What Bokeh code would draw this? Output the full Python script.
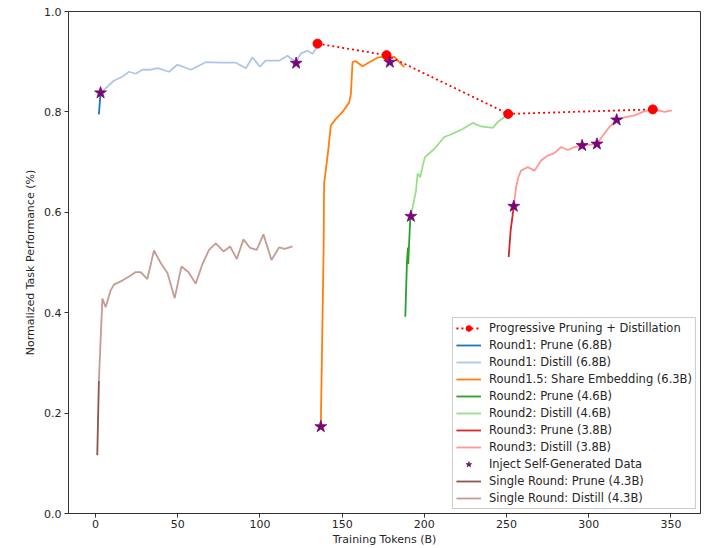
from bokeh.plotting import figure
from bokeh.models import Range1d, FixedTicker, Legend, LegendItem, CustomJSTickFormatter
from bokeh.embed import file_html
from bokeh.resources import INLINE

# ---- data ----
prog_x = [135, 177, 251, 339]
prog_y = [0.936, 0.913, 0.796, 0.805]

r1_prune_x = [2, 3]
r1_prune_y = [0.795, 0.838]

r1_distill_x = [3, 11.1, 16.2, 20.3, 24.4, 28.4, 33.5, 37.6, 44.7, 49.7, 57.9, 67, 76.1, 85.3,
                91.4, 95.4, 99.9, 103.5, 111.6, 116.7, 121.8, 124.8, 128.9, 132, 134, 135]
r1_distill_y = [0.838, 0.862, 0.870, 0.880, 0.876, 0.884, 0.884, 0.887, 0.880, 0.894, 0.884, 0.899,
                0.898, 0.898, 0.887, 0.909, 0.890, 0.902, 0.902, 0.912, 0.899, 0.916, 0.922, 0.916,
                0.926, 0.936]

r15_x = [137, 138.7, 139, 141.5, 143.1, 146.2, 150.2, 154.3, 155.3, 156.3, 158.3, 162.4, 166.5,
         171.5, 175.6, 179.7, 181.7, 184.7, 187.8]
r15_y = [0.173, 0.524, 0.657, 0.723, 0.773, 0.786, 0.800, 0.819, 0.836, 0.899, 0.901, 0.891, 0.899,
         0.908, 0.910, 0.908, 0.910, 0.899, 0.889]

r2_prune_x = [188.4, 189.4, 190.0, 190.2, 190.6, 191.5]
r2_prune_y = [0.392, 0.500, 0.530, 0.497, 0.530, 0.592]

r2_distill_x = [191.5, 192.9, 194.9, 195.9, 197.5, 199, 200.4, 206, 212.1, 216.2, 223.3, 229.4,
                234.5, 241.6, 244.6, 248.3, 251]
r2_distill_y = [0.592, 0.610, 0.643, 0.677, 0.670, 0.693, 0.710, 0.726, 0.750, 0.755, 0.766, 0.778,
                0.771, 0.768, 0.780, 0.789, 0.796]

r3_prune_x = [251.3, 252.5, 254.4]
r3_prune_y = [0.511, 0.564, 0.612]

r3_distill_x = [254.4, 255.8, 257.2, 258.8, 262.9, 267, 271, 275.1, 279.1, 283.2, 287.3, 291.4, 296,
                300.4, 304.9, 308.6, 312.6, 317.1, 321.8, 327.9, 333, 338, 342.1, 346.1, 350.6]
r3_distill_y = [0.612, 0.650, 0.670, 0.683, 0.690, 0.683, 0.703, 0.713, 0.718, 0.730, 0.724, 0.730,
                0.733, 0.735, 0.736, 0.753, 0.770, 0.784, 0.789, 0.793, 0.800, 0.805, 0.803, 0.800,
                0.803]

star_x = [3, 122, 137, 179, 191.8, 254.4, 296, 305, 317]
star_y = [0.838, 0.897, 0.173, 0.899, 0.592, 0.612, 0.733, 0.736, 0.784]

single_prune_x = [1, 2]
single_prune_y = [0.116, 0.265]

single_distill_x = [2, 4.1, 6.1, 9.1, 11.1, 16.2, 21.3, 24.4, 27.4, 31.5, 35.5, 39.6, 43.7, 48.1,
                    52.2, 56.4, 60.9, 65, 69, 73.1, 77.8, 81.8, 85.9, 89.9, 94, 98, 102.1, 107,
                    111.6, 115.1, 119.8]
single_distill_y = [0.265, 0.428, 0.411, 0.444, 0.456, 0.464, 0.474, 0.481, 0.481, 0.467, 0.524,
                    0.499, 0.479, 0.429, 0.492, 0.481, 0.458, 0.497, 0.525, 0.538, 0.522, 0.532,
                    0.507, 0.546, 0.529, 0.525, 0.556, 0.505, 0.530, 0.527, 0.532]

x_ticks = [0, 50, 100, 150, 200, 250, 300, 350]
y_ticks = [0.0, 0.2, 0.4, 0.6, 0.8, 1.0]

FONT = "DejaVu Sans"
TXT = "#262626"

p = figure(width=713, height=548, output_backend="svg", toolbar_location=None,
           x_range=Range1d(-16.5, 368), y_range=Range1d(0, 1),
           min_border_left=68, min_border_right=13, min_border_top=11, min_border_bottom=35)
p.xgrid.visible = False
p.ygrid.visible = False
p.outline_line_color = "#333333"
p.outline_line_width = 1
p.background_fill_color = "white"
p.border_fill_color = "white"

p.xaxis.ticker = FixedTicker(ticks=x_ticks)
p.yaxis.ticker = FixedTicker(ticks=y_ticks)
p.yaxis.formatter = CustomJSTickFormatter(code="return tick.toFixed(1);")
for ax in (p.xaxis[0], p.yaxis[0]):
    ax.major_label_text_font = FONT
    ax.major_label_text_font_size = "11px"
    ax.major_label_text_color = TXT
    ax.axis_label_text_font = FONT
    ax.axis_label_text_font_size = "11px"
    ax.axis_label_text_font_style = "normal"
    ax.axis_label_text_color = TXT
    ax.minor_tick_line_color = None
    ax.major_tick_in = 0
    ax.major_tick_out = 4
    ax.axis_line_color = "#333333"
    ax.major_tick_line_color = "#333333"
p.xaxis.major_label_standoff = 2
p.xaxis.axis_label_standoff = 2
p.yaxis.major_label_standoff = 3
p.yaxis.axis_label_standoff = 4
p.xaxis.axis_label = "Training Tokens (B)"
p.yaxis.axis_label = "Normalized Task Performance (%)"

LW = 1.8
l_r1p = p.line(r1_prune_x, r1_prune_y, color="#1f77b4", line_width=LW)
l_r1d = p.line(r1_distill_x, r1_distill_y, color="#aec7e8", line_width=LW)
l_r15 = p.line(r15_x, r15_y, color="#ff7f0e", line_width=LW)
l_r2p = p.line(r2_prune_x, r2_prune_y, color="#2ca02c", line_width=LW)
l_r2d = p.line(r2_distill_x, r2_distill_y, color="#98df8a", line_width=LW)
l_r3p = p.line(r3_prune_x, r3_prune_y, color="#d62728", line_width=LW)
l_r3d = p.line(r3_distill_x, r3_distill_y, color="#ff9896", line_width=LW)
l_sp = p.line(single_prune_x, single_prune_y, color="#8c564b", line_width=LW)
l_sd = p.line(single_distill_x, single_distill_y, color="#c49c94", line_width=LW)

l_prog = p.line(prog_x, prog_y, color="red", line_width=1.8, line_dash="2 3")
s_prog = p.scatter(prog_x, prog_y, size=9, color="red")
s_star = p.scatter(star_x, star_y, marker="star", size=12.5, fill_color="purple",
                   line_color="#6a0a6a", line_width=0.8)

legend = Legend(items=[
    LegendItem(label="Progressive Pruning + Distillation", renderers=[l_prog, s_prog]),
    LegendItem(label="Round1: Prune (6.8B)", renderers=[l_r1p]),
    LegendItem(label="Round1: Distill (6.8B)", renderers=[l_r1d]),
    LegendItem(label="Round1.5: Share Embedding (6.3B)", renderers=[l_r15]),
    LegendItem(label="Round2: Prune (4.6B)", renderers=[l_r2p]),
    LegendItem(label="Round2: Distill (4.6B)", renderers=[l_r2d]),
    LegendItem(label="Round3: Prune (3.8B)", renderers=[l_r3p]),
    LegendItem(label="Round3: Distill (3.8B)", renderers=[l_r3d]),
    LegendItem(label="Inject Self-Generated Data", renderers=[s_star]),
    LegendItem(label="Single Round: Prune (4.3B)", renderers=[l_sp]),
    LegendItem(label="Single Round: Distill (4.3B)", renderers=[l_sd]),
], location="bottom_right")
legend.label_text_font = FONT
legend.label_text_font_size = "11.5px"
legend.label_text_color = TXT
legend.label_height = 14
legend.glyph_height = 14
legend.glyph_width = 25
legend.spacing = 3
legend.padding = 3
legend.margin = 4
legend.label_standoff = 8
legend.border_line_color = "#cccccc"
legend.border_line_alpha = 1
legend.background_fill_alpha = 0.9
p.add_layout(legend, "center")

open("out.html", "w").write(file_html(p, INLINE))
